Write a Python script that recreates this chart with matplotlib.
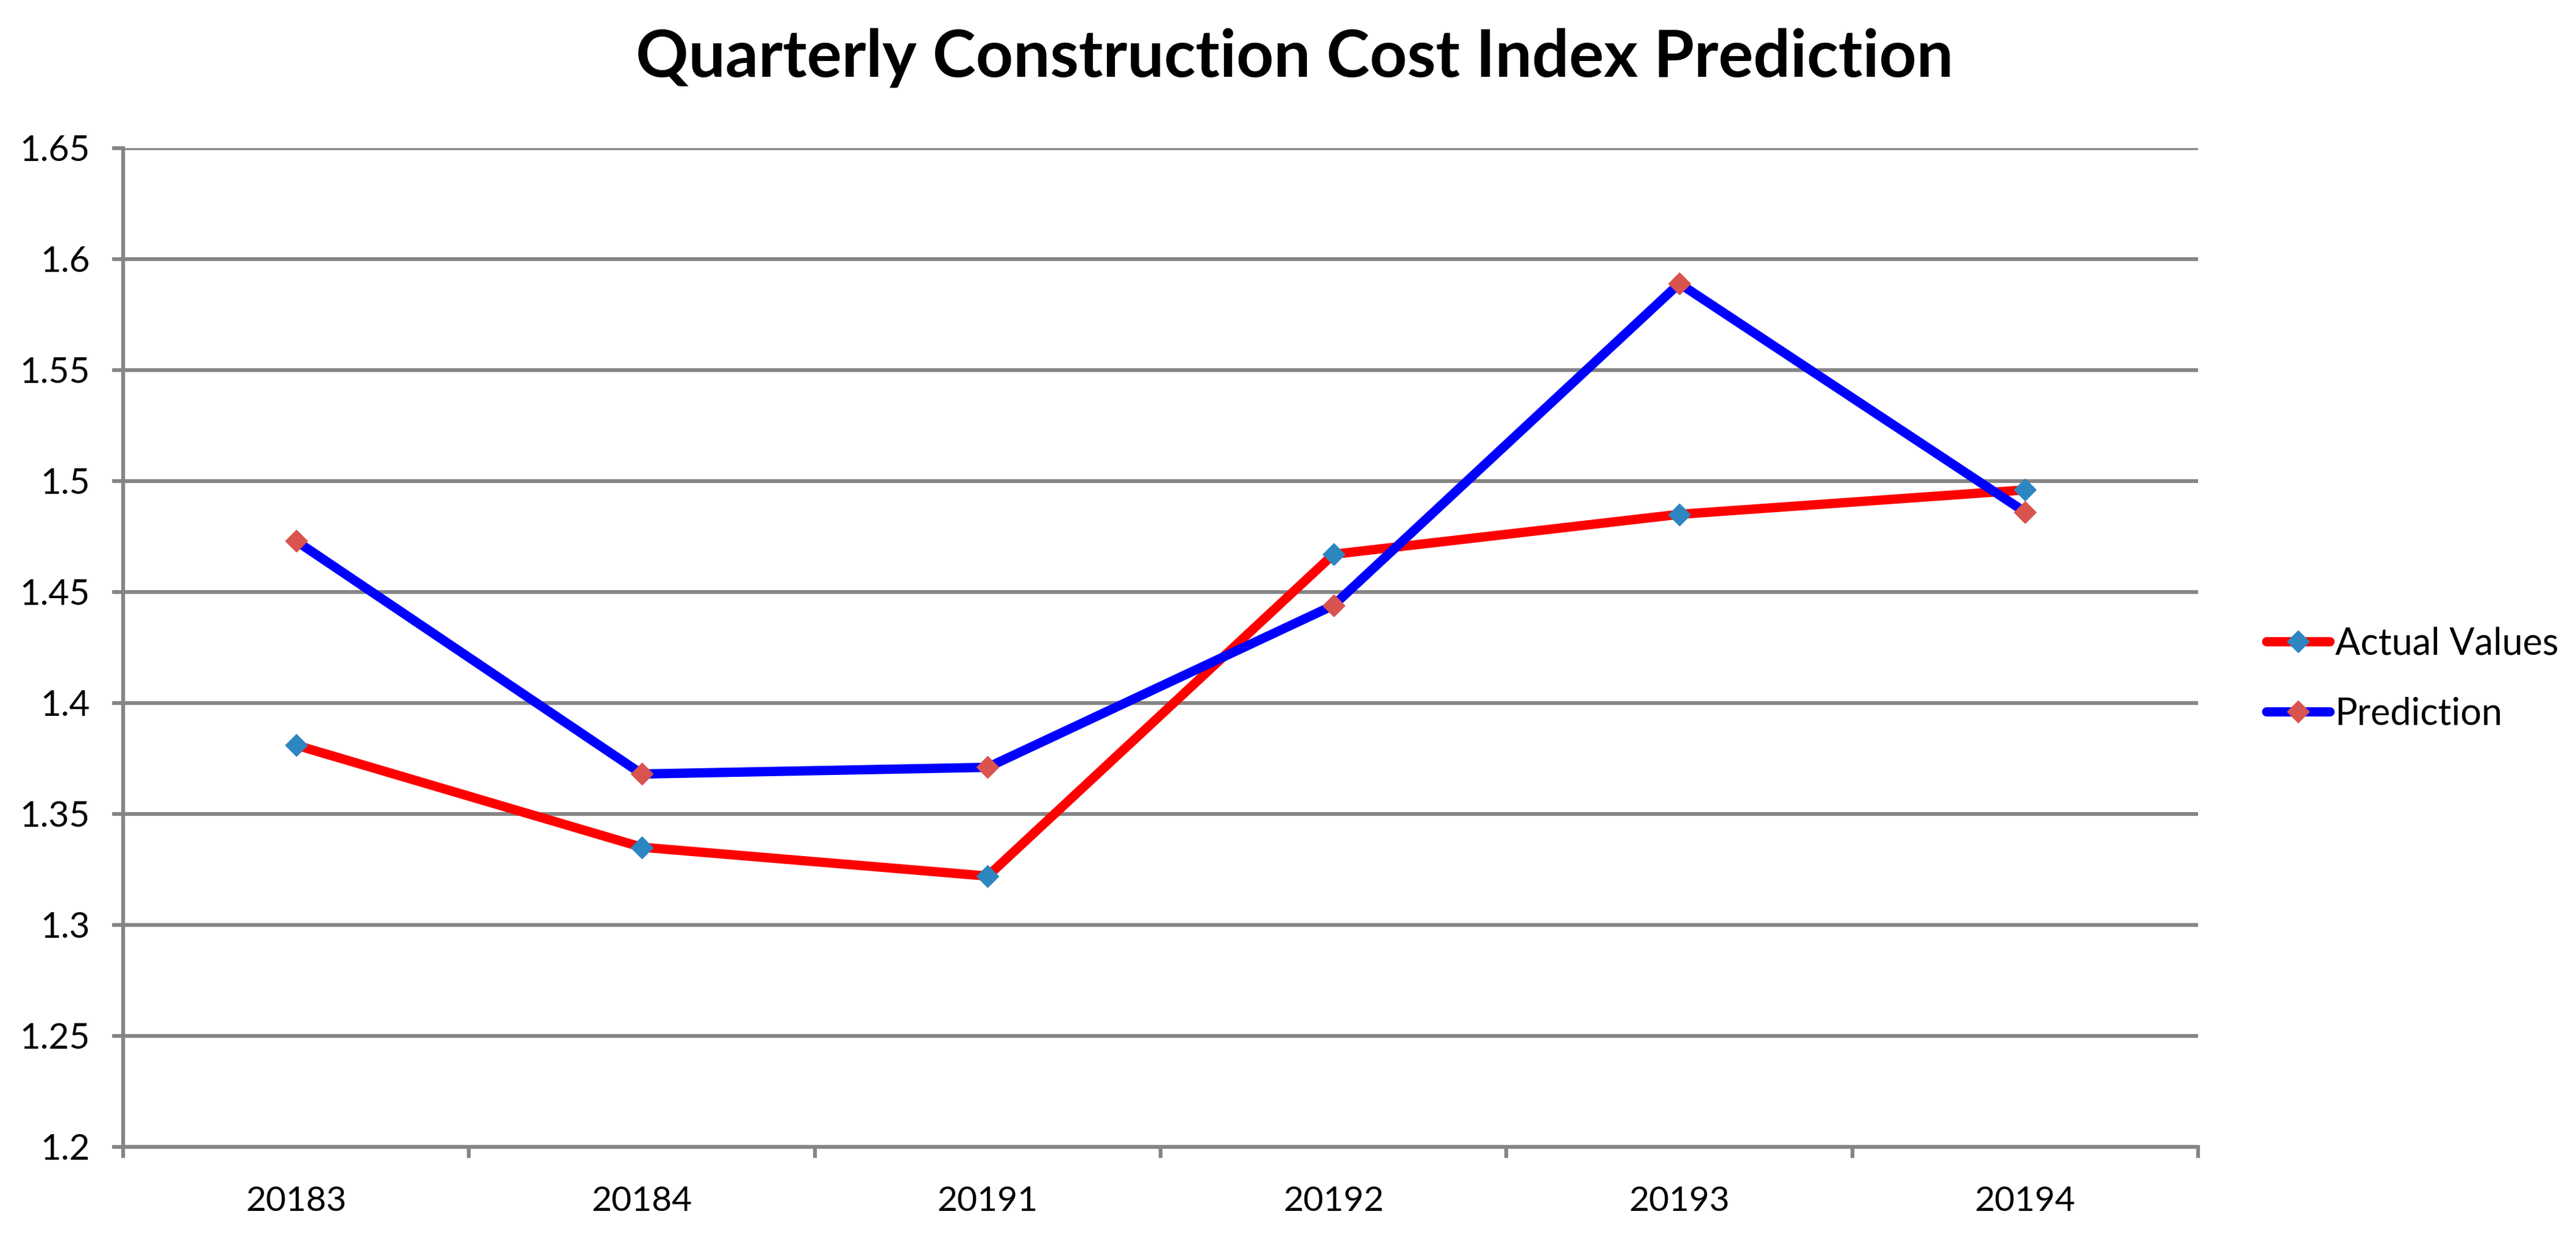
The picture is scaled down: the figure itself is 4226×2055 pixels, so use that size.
import matplotlib.pyplot as plt
import numpy as np

# Data
quarters = ['20183', '20184', '20191', '20192', '20193', '20194']
actual = [1.381, 1.335, 1.322, 1.467, 1.485, 1.496]
prediction = [1.473, 1.368, 1.371, 1.444, 1.589, 1.486]
y_ticks = [1.2, 1.25, 1.3, 1.35, 1.4, 1.45, 1.5, 1.55, 1.6, 1.65]

plt.rcParams['font.family'] = ['Lato', 'DejaVu Sans']

fig = plt.figure(figsize=(42.26, 20.55), dpi=100)
ax = fig.add_axes([0.0478, 0.0847, 0.8055, 0.7971])

x = np.arange(len(quarters))
grid_col = '#858585'

#Draw lines
ax.plot(x, actual, color='#ff0000', linewidth=11, marker='D', markersize=18,
        markerfacecolor='#2e86c1', markeredgecolor='#2e86c1', label='Actual Values',
        solid_capstyle='round', zorder=3)
ax.plot(x, prediction, color='#0000ff', linewidth=11, marker='D', markersize=18,
        markerfacecolor='#d9534f', markeredgecolor='#d9534f', label='Prediction',
        solid_capstyle='round', zorder=3)

ax.set_xlim(-0.5, len(quarters) - 0.5)
ax.set_ylim(1.2, 1.65)
ax.set_yticks(y_ticks)
ax.set_yticklabels([f'{v:g}' for v in y_ticks])
ax.set_xticks(x)
ax.set_xticklabels(quarters)
ax.set_xticks(np.arange(-0.5, len(quarters)), minor=True)

ax.yaxis.grid(True, color=grid_col, linewidth=4.5)
ax.set_axisbelow(True)
for side in ['top', 'right']:
    ax.spines[side].set_visible(False)
for side in ['left', 'bottom']:
    ax.spines[side].set_color(grid_col)
    ax.spines[side].set_linewidth(4.5)

ax.tick_params(axis='y', length=13, width=4.5, color=grid_col, pad=26, labelsize=42)
ax.tick_params(axis='x', which='major', length=0, pad=46, labelsize=41)
ax.tick_params(axis='x', which='minor', length=13, width=4.5, color=grid_col)

fig.text(0.5025, 0.954, 'Quarterly Construction Cost Index Prediction',
         ha='center', va='center', fontsize=77, fontweight='bold')

ax.legend(loc='center left', bbox_to_anchor=(0.8725, 0.458), bbox_transform=fig.transFigure,
          frameon=False, fontsize=44, handlelength=1.7, handletextpad=0.15,
          labelspacing=0.95, borderpad=0)

fig.savefig('out.png', dpi=100)
